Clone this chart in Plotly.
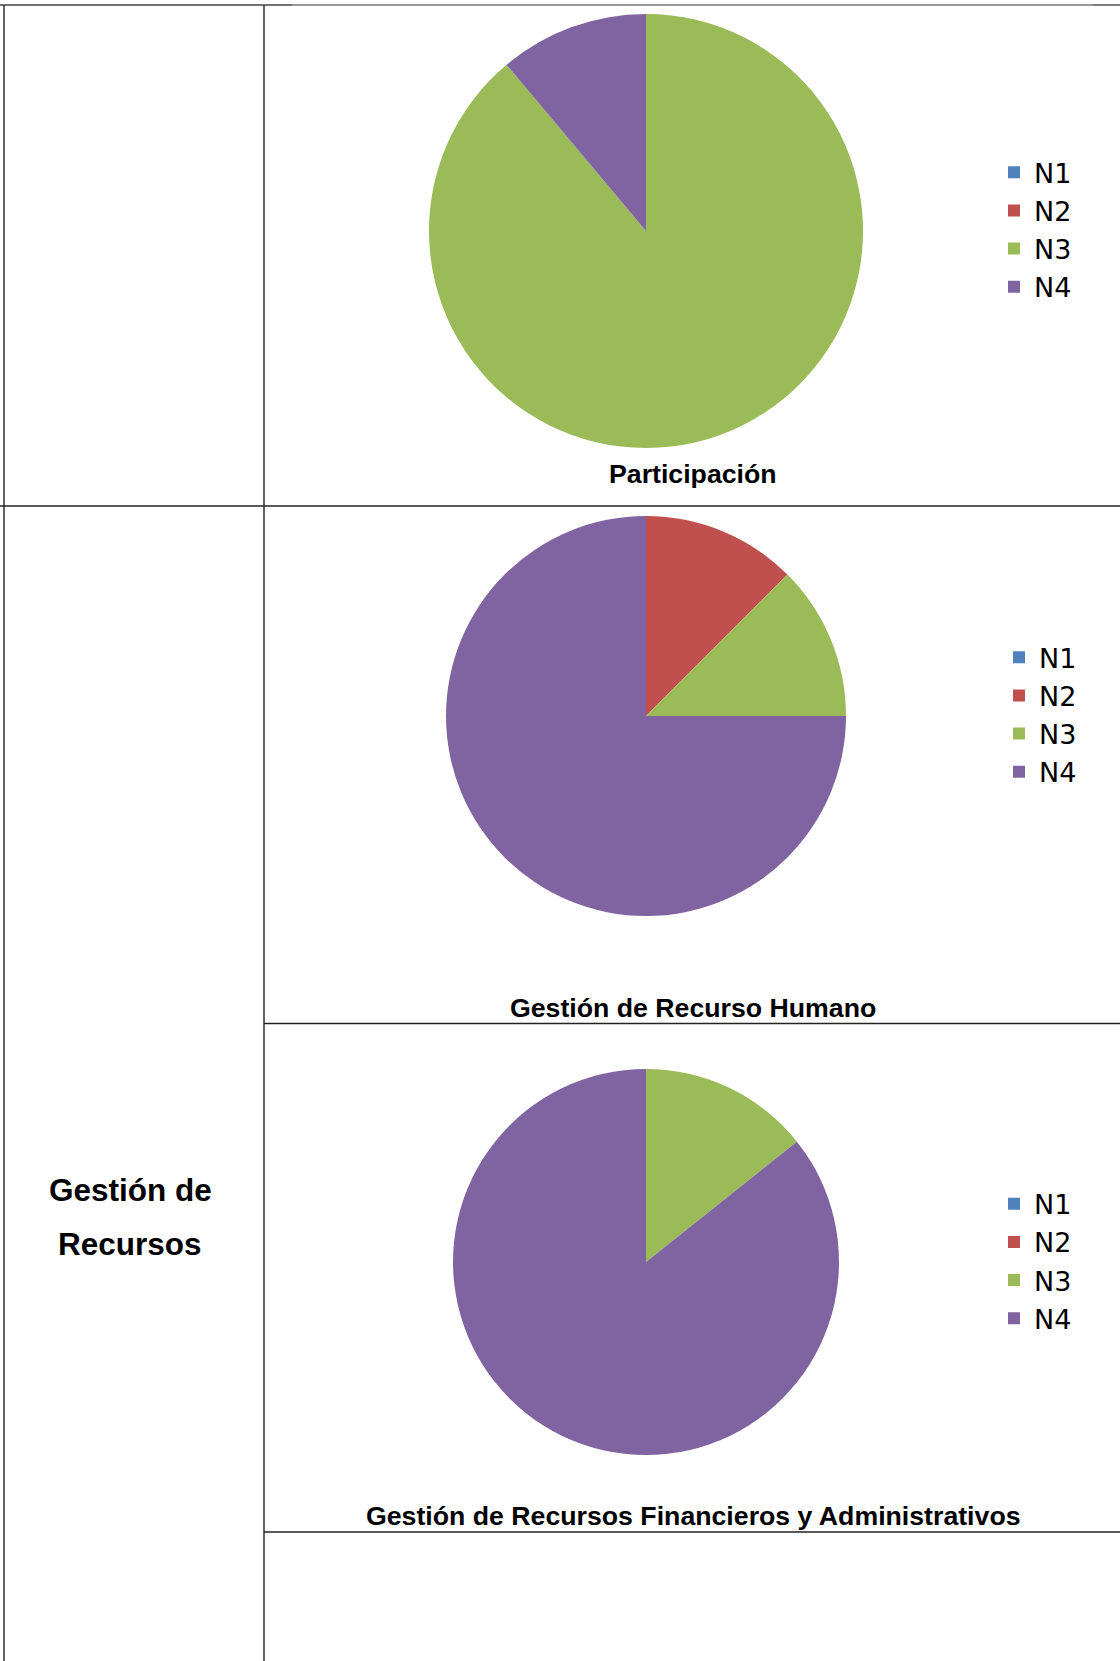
import plotly.graph_objects as go

W, H = 1120, 1661

labels = ["N1", "N2", "N3", "N4"]
colors = ["#4F81BD", "#C0504D", "#9BBB59", "#8064A2"]

titles = ["Participación", "Gestión de Recurso Humano",
          "Gestión de Recursos Financieros y Administrativos"]
vals_participacion = [0, 0, 8, 1]
vals_rrhh = [0, 1, 1, 6]
vals_financieros = [0, 0, 1, 6]
row_label = ["Gestión de", "Recursos"]


def px(x):
    return x / W


def py(y):
    return 1 - y / H


# pie geometry in pixels: (cx, cy, r)
geoms = [(646, 231, 217), (646, 716, 200), (646, 1262, 193)]
legend_tops = [148.3, 633.3, 1179.8]
legend_lefts = [994, 999, 994]
title_mid = [474, 1008, 1516]
series = [vals_participacion, vals_rrhh, vals_financieros]
legend_names = ["legend", "legend2", "legend3"]

fig = go.Figure()
for i, (vals, (cx, cy, r)) in enumerate(zip(series, geoms)):
    # zero-width suffix keeps each pie's legend entries separate
    lab = [l + "\u200b" * i for l in labels]
    fig.add_trace(go.Pie(
        labels=lab, values=vals, sort=False, direction="clockwise",
        rotation=0, textinfo="none", hoverinfo="label+value",
        marker=dict(colors=colors, line=dict(width=0)),
        domain=dict(x=[px(cx - r), px(cx + r)], y=[py(cy + r), py(cy - r)]),
        legend=legend_names[i], showlegend=True,
    ))

leg_common = dict(font=dict(family="DejaVu Sans", size=27, color="#000"),
                  bgcolor="rgba(0,0,0,0)", xanchor="left", yanchor="top",
                  tracegroupgap=0, itemclick=False, itemdoubleclick=False)
layout_legends = {}
for i, name in enumerate(legend_names):
    layout_legends[name] = dict(x=px(legend_lefts[i]), y=py(legend_tops[i]), **leg_common)

annotations = []
for t, ym in zip(titles, title_mid):
    annotations.append(dict(text="<b>%s</b>" % t, x=px(693), y=py(ym),
                            xref="paper", yref="paper", showarrow=False,
                            xanchor="center", yanchor="middle",
                            font=dict(family="Liberation Sans", size=26.7, color="#000")))
for t, ym in zip(row_label, [1189.5, 1243.5]):
    annotations.append(dict(text="<b>%s</b>" % t, x=px(130), y=py(ym),
                            xref="paper", yref="paper", showarrow=False,
                            xanchor="center", yanchor="middle",
                            font=dict(family="Liberation Sans", size=31.5, color="#000")))

LC = "#222222"
shapes = []


def hline(x0, x1, y, color=LC):
    shapes.append(dict(type="line", xref="paper", yref="paper",
                       x0=px(x0), x1=px(x1), y0=py(y), y1=py(y),
                       line=dict(color=color, width=1.4)))


def vline(x, y0, y1, color=LC):
    shapes.append(dict(type="line", xref="paper", yref="paper",
                       x0=px(x), x1=px(x), y0=py(y0), y1=py(y1),
                       line=dict(color=color, width=1.4)))


hline(0, 292, 5, "#444444")
hline(292, 1093, 5, "#777777")
hline(1093, W, 5, "#444444")
hline(0, W, 506)
hline(264, W, 1023.5)
hline(264, W, 1532)
vline(4, 5, H)
vline(264, 5, H)

fig.update_layout(
    width=W, height=H, margin=dict(l=0, r=0, t=0, b=0),
    paper_bgcolor="white", plot_bgcolor="white",
    annotations=annotations, shapes=shapes,
    **layout_legends,
)

fig.write_html("out.html", config={"displayModeBar": False},
               post_script="document.body.style.margin='0';document.body.style.overflow='hidden';")
